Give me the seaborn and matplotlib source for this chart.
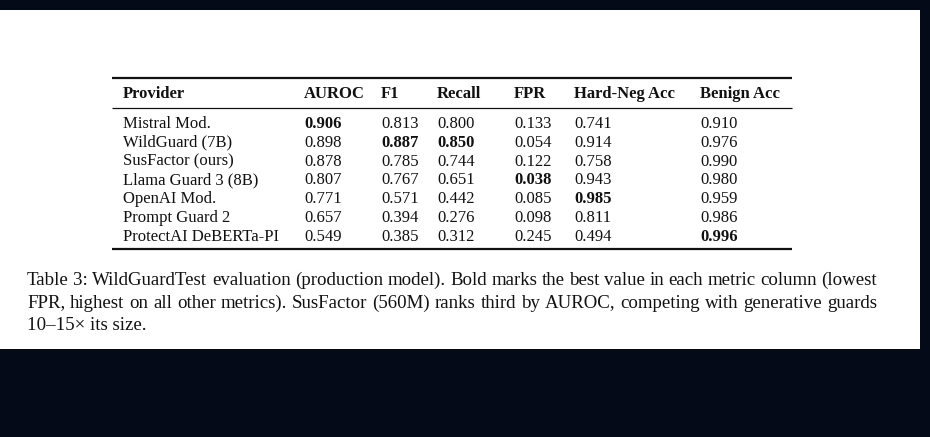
import matplotlib
matplotlib.use("Agg")
import matplotlib.pyplot as plt
import seaborn as sns

# Table contents
providers = ["Mistral Mod.", "WildGuard (7B)", "SusFactor (ours)", "Llama Guard 3 (8B)",
             "OpenAI Mod.", "Prompt Guard 2", "ProtectAI DeBERTa-PI"]
columns = ["AUROC", "F1", "Recall", "FPR", "Hard-Neg Acc", "Benign Acc"]
auroc = [0.906, 0.898, 0.878, 0.807, 0.771, 0.657, 0.549]
f1 = [0.813, 0.887, 0.785, 0.767, 0.571, 0.394, 0.385]
recall = [0.800, 0.850, 0.744, 0.651, 0.442, 0.276, 0.312]
fpr = [0.133, 0.054, 0.122, 0.038, 0.085, 0.098, 0.245]
hard_neg_acc = [0.741, 0.914, 0.758, 0.943, 0.985, 0.811, 0.494]
benign_acc = [0.910, 0.976, 0.990, 0.980, 0.959, 0.986, 0.996]
lower_is_better = ["FPR"]

caption_lines = [
    "Table 3: WildGuardTest evaluation (production model). Bold marks the best value in each metric column (lowest",
    "FPR, highest on all other metrics). SusFactor (560M) ranks third by AUROC, competing with generative guards",
    "10\u201315\u00d7 its size.",
]

sns.set_theme(style="white")
plt.rcParams["font.family"] = ["Liberation Serif", "DejaVu Serif"]

W, H = 930, 437
fig = plt.figure(figsize=(W / 100, H / 100), dpi=100)
fig.patch.set_facecolor("#050a18")
ax = fig.add_axes([0, 0, 1, 1])
ax.set_xlim(0, W)
ax.set_ylim(H, 0)
ax.axis("off")

# white page
ax.add_patch(plt.Rectangle((0, 10), 920, 339, facecolor="white", edgecolor="none"))

ink = "#111111"
col_x = [123, 304, 381, 437, 514, 574, 700]
rule_x0, rule_x1 = 112, 792
header_y = 98
row_y0, row_step = 128, 18.8
fs_table = 12

ax.plot([rule_x0, rule_x1], [77.5, 77.5], color=ink, lw=1.6, solid_capstyle="butt")
ax.plot([rule_x0, rule_x1], [107.5, 107.5], color=ink, lw=0.9, solid_capstyle="butt")
ax.plot([rule_x0, rule_x1], [249, 249], color=ink, lw=1.6, solid_capstyle="butt")

for x, name in zip(col_x, ["Provider"] + columns):
    ax.text(x, header_y, name, fontsize=fs_table, fontweight="bold", color=ink, va="baseline")

data = dict(zip(columns, [auroc, f1, recall, fpr, hard_neg_acc, benign_acc]))
for i, p in enumerate(providers):
    y = row_y0 + i * row_step
    ax.text(col_x[0], y, p, fontsize=fs_table, color=ink, va="baseline")
    for j, c in enumerate(columns):
        vals = data[c]
        best = min(vals) if c in lower_is_better else max(vals)
        v = vals[i]
        ax.text(col_x[j + 1], y, f"{v:.3f}", fontsize=fs_table, color=ink, va="baseline",
                fontweight="bold" if v == best else "normal")

# justified caption
fs_cap = 13.6
cap_x0, cap_x1 = 27, 877
cap_y = [285, 307.5, 330]
fig.canvas.draw()
renderer = fig.canvas.get_renderer()
inv = ax.transData.inverted()
for li, (line, y) in enumerate(zip(caption_lines, cap_y)):
    words = line.split(" ")
    if li == len(caption_lines) - 1:
        ax.text(cap_x0, y, line, fontsize=fs_cap, color=ink, va="baseline")
        continue
    texts = [ax.text(0, y, w, fontsize=fs_cap, color=ink, va="baseline") for w in words]
    widths = []
    for t in texts:
        bb = t.get_window_extent(renderer)
        (a, _), (b, _) = inv.transform([[bb.x0, 0], [bb.x1, 0]])
        widths.append(b - a)
    gap = (cap_x1 - cap_x0 - sum(widths)) / (len(words) - 1)
    x = cap_x0
    for t, w in zip(texts, widths):
        t.set_x(x)
        x += w + gap

fig.savefig("out.png", dpi=100, facecolor=fig.get_facecolor())
